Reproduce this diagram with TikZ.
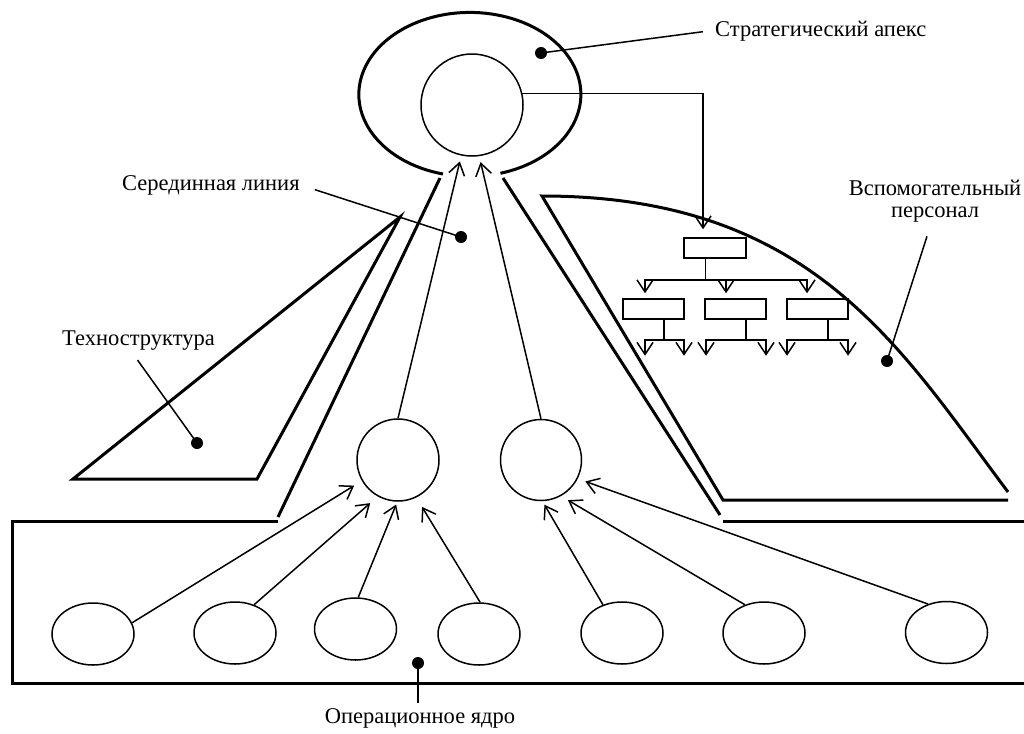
\documentclass[tikz,border=0pt]{standalone}
\usepackage{fontspec}
\setmainfont{Liberation Serif}
\usetikzlibrary{arrows.meta,shapes.geometric,calc}
\begin{document}
\begin{tikzpicture}[x=1pt,y=-1pt,
  thickl/.style={line width=3pt},
  thinl/.style={line width=1.5pt},
  arr/.style={thinl,-{Straight Barb[length=12pt,width=16pt]}},
  circ/.style={circle,draw,thinl,inner sep=0pt},
  oval/.style={ellipse,draw,thinl,inner sep=0pt,minimum width=82pt,minimum height=62pt},
  box/.style={rectangle,draw,thinl,inner sep=0pt,minimum width=61pt,minimum height=20pt},
  dotn/.style={circle,fill=black,inner sep=0pt,minimum size=12pt},
  lab/.style={inner sep=0pt,font=\fontsize{22.5}{22}\selectfont}]
\useasboundingbox (0,0) rectangle (1024,733);

% strategic apex outline
\draw[thickl] (443,174) arc[start angle=104,end angle=434,x radius=111,y radius=82];
% middle line boundaries
\draw[thickl] (440,178) -- (278,517);
\draw[thickl] (503,178) -- (720,515);
% technostructure
\draw[thickl] (73,479) -- (400,217) -- (257,479) -- cycle;
% support staff
\draw[thickl] (1008,492) .. controls (900,348) and (812,196) .. (542,196) -- (723,500) -- (1008,500);
% operating core
\draw[thickl] (278,521) -- (12,521) -- (12,683) -- (1024,683);
\draw[thickl] (723,521) -- (1024,521);

% nodes
\node[circ,minimum size=102pt] (apex) at (472,105) {};
\node[circ,minimum size=82pt] (cl) at (398,460) {};
\node[circ,minimum size=81pt] (cr) at (541,460) {};
\node[oval] (e1) at (93,634) {};
\node[oval] (e2) at (235,633) {};
\node[oval] (e3) at (355.5,629) {};
\node[oval] (e4) at (479,634) {};
\node[oval] (e5) at (622,633) {};
\node[oval] (e6) at (764,633) {};
\node[oval] (e7) at (946.5,632.5) {};

% arrows of the core
\draw[arr,shorten >=9pt] (e1.16) -- (cl.210);
\draw[arr,shorten >=10pt] (e2.56) -- (cl.241);
\draw[arr,shorten >=3pt] (e3.85) -- (cl.269);
\draw[arr,shorten >=11pt] (e4.88) -- (cl.296);
\draw[arr,shorten >=4pt] (e5.124) -- (cr.272);
\draw[arr,shorten >=8pt] (e6.124) -- (cr.299);
\draw[arr,shorten >=8pt] (e7.123) -- (cr.333);
\draw[arr,shorten >=6pt] (cl.north) -- (apex.258);
\draw[arr,shorten >=6pt] (cr.north) -- (apex.278);

% hierarchy of support staff
\node[box,minimum width=62pt] (top) at (715,248) {};
\node[box] (b1) at (653.5,309) {};
\node[box] (b2) at (735.5,309) {};
\node[box] (b3) at (817.5,309) {};
\draw[arr,shorten >=8pt] (apex.13) -| ([xshift=-12pt]top.north);
\draw[arr,shorten >=5pt] ([xshift=-9.5pt]top.south) -- ++(0,21) -| ([xshift=-8.5pt]b1.north);
\draw[arr,shorten >=5pt] ([xshift=-9.5pt]top.south) -- ++(0,21) -| ([xshift=-9.5pt]b2.north);
\draw[arr,shorten >=5pt] ([xshift=-9.5pt]top.south) -- ++(0,21) -| ([xshift=-10.5pt]b3.north);
\coordinate (g11) at ([xshift=-8.5pt,yshift=-36pt]b1.south);
\coordinate (g12) at ([xshift=30.5pt,yshift=-36pt]b1.south);
\coordinate (g21) at ([xshift=-29.5pt,yshift=-36pt]b2.south);
\coordinate (g22) at ([xshift=30.5pt,yshift=-36pt]b2.south);
\coordinate (g31) at ([xshift=-30.5pt,yshift=-36pt]b3.south);
\coordinate (g32) at ([xshift=30.5pt,yshift=-36pt]b3.south);
\draw[arr] ([xshift=10.5pt]b1.south) -- ++(0,20) -| (g11);
\draw[arr] ([xshift=10.5pt]b1.south) -- ++(0,20) -| (g12);
\draw[arr] ([xshift=10.5pt]b2.south) -- ++(0,20) -| (g21);
\draw[arr] ([xshift=10.5pt]b2.south) -- ++(0,20) -| (g22);
\draw[arr] ([xshift=10.5pt]b3.south) -- ++(0,20) -| (g31);
\draw[arr] ([xshift=10.5pt]b3.south) -- ++(0,20) -| (g32);

% labels
\node[lab,anchor=base west] (l1) at (715,37) {Стратегический апекс};
\node[lab,anchor=base west] (l2) at (122,190.7) {Серединная линия};
\node[lab,anchor=base west] (l3) at (62,345) {Техноструктура};
\node[lab,align=center] (l4) at (935,201) {Вспомогательный\\персонал};
\node[lab,anchor=base] (l5) at (420,723) {Операционное ядро};

% pointer dots
\node[dotn] (d1) at (541,53) {};
\node[dotn] (d2) at (461,237) {};
\node[dotn] (d3) at (197,443) {};
\node[dotn] (d4) at (887,361) {};
\node[dotn] (d5) at (418,663) {};
\draw[thinl] (d1.center) -- ([xshift=-12pt]l1.west);
\draw[thinl] (d2.center) -- ([xshift=15pt,yshift=-4pt]l2.east);
\draw[thinl] (d3.center) -- ([xshift=-1pt,yshift=-10pt]l3.south);
\draw[thinl] (d4.center) -- ([xshift=-8pt,yshift=-14pt]l4.south);
\draw[thinl] (d5.center) -- ($(d5 |- l5.north)+(0,-5)$);
\end{tikzpicture}
\end{document}
